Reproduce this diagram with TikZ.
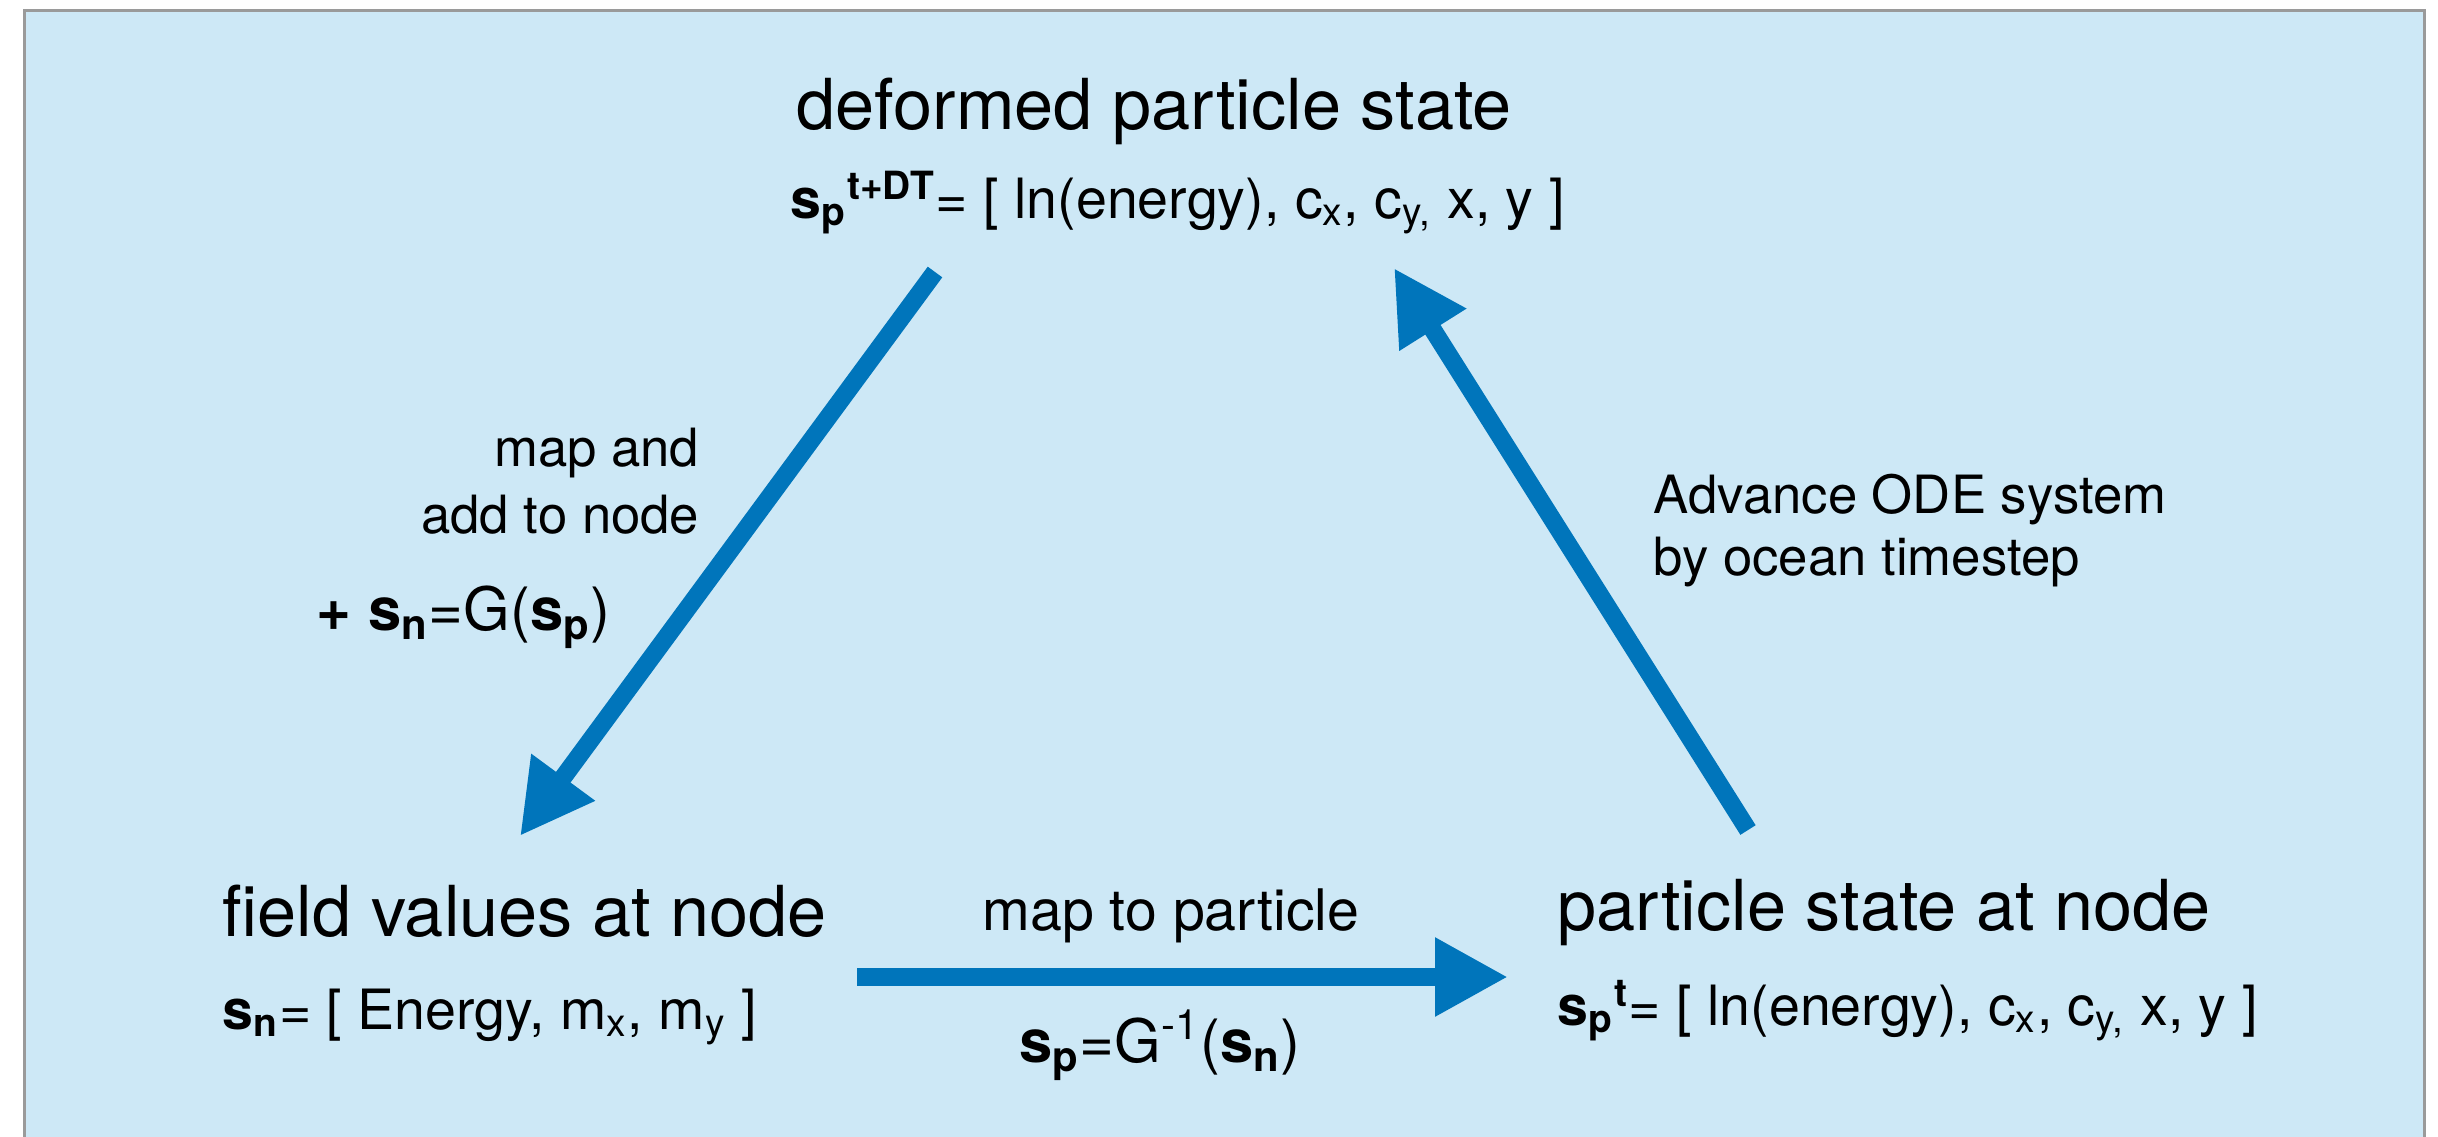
\documentclass[tikz,border=0pt]{standalone}
\usepackage{fontspec}
\setmainfont{TeX Gyre Heros}
\usepackage{xcolor}
\usepackage{tikz}
\usetikzlibrary{arrows.meta}
\definecolor{panelblue}{HTML}{CDE8F6}
\definecolor{flowblue}{HTML}{0075BB}
\definecolor{framegray}{HTML}{9A9A9A}
\newcommand{\sv}[1]{\textbf{s}\textsubscript{\textbf{#1}}}

\begin{document}
\begin{tikzpicture}[x=0.1mm,y=-0.1mm,
    heading/.style={anchor=base west,inner sep=0pt,font=\fontsize{20}{24}\selectfont},
    eqn/.style={anchor=base west,inner sep=0pt,font=\fontsize{15.8}{19}\selectfont},
    bigeqn/.style={inner sep=0pt,font=\fontsize{17}{20}\selectfont},
    note/.style={inner sep=0pt,font=\fontsize{15}{18}\selectfont},
    flow/.style={draw=flowblue,line width=1.8mm,-{Triangle[length=7.3mm,width=7.4mm]}}]
    \clip (0,0) rectangle (2438,1136);
    \draw[framegray,line width=0.3mm,fill=panelblue] (24.3,10.8) rectangle (2424.2,1200);
    % states
    \node[heading] (deformed) at (796,129) {deformed particle state};
    \node[eqn] (deformedeq) at (790,218) {\sv{p}\textsuperscript{\textbf{t+DT}}= [ ln(energy), c\textsubscript{x}, c\textsubscript{y,} x, y ]};
    \node[heading] (field) at (222,936) {field values at node};
    \node[eqn] (fieldeq) at (222,1029) {\sv{n}= [ Energy, m\textsubscript{x}, m\textsubscript{y} ]};
    \node[heading] (particle) at (1557,930) {particle state at node};
    \node[eqn] (particleeq) at (1557,1025) {\sv{p}\textsuperscript{\textbf{t}}= [ ln(energy), c\textsubscript{x}, c\textsubscript{y,} x, y ]};
    % arrow labels
    \node[note,anchor=base east] (mapand) at (700,466) {map and};
    \node[note,anchor=base east] (addto) at (700,533) {add to node};
    \node[bigeqn,anchor=base west] (addeq) at (316,630) {\textbf{+} \sv{n}=G(\sv{p})};
    \node[note,anchor=base west] (advance) at (1653,513) {Advance ODE system};
    \node[note,anchor=base west] (ocean) at (1653,575) {by ocean timestep};
    \node[note,anchor=base,font=\fontsize{16.3}{19}\selectfont] (topart) at (1171,930) {map to particle};
    \node[bigeqn,anchor=base] (inveq) at (1160,1062) {\sv{p}=G\textsuperscript{-1}(\sv{n})};
    % arrow ends
    \coordinate (gatherstart) at (935,272);
    \coordinate (gatherend) at (520,836);
    \coordinate (mapstart) at (857,977);
    \coordinate (mapend) at (1508,977);
    \coordinate (odestart) at (1748,830);
    \coordinate (odeend) at (1394,268);
    \draw[flow] (gatherstart) -- (gatherend);
    \draw[flow] (mapstart) -- (mapend);
    \draw[flow] (odestart) -- (odeend);
\end{tikzpicture}
\end{document}
